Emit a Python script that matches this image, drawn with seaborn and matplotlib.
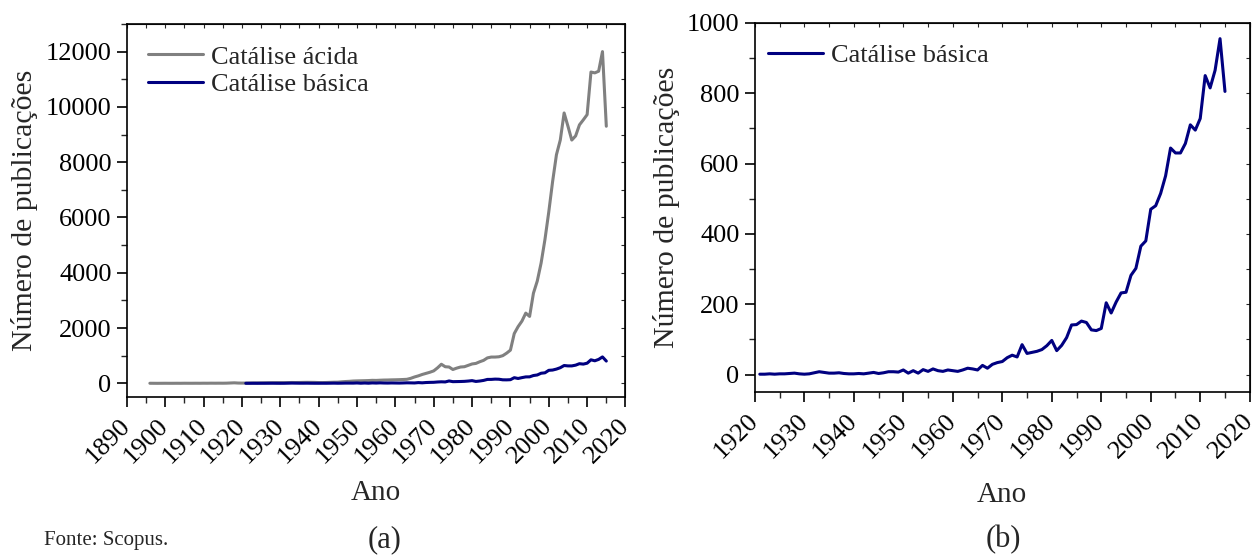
import numpy as np
import pandas as pd
import matplotlib
matplotlib.use('Agg')
import matplotlib.pyplot as plt
from matplotlib.ticker import MultipleLocator
import seaborn as sns

sns.set_style('ticks')
plt.rcParams['font.family'] = ['Liberation Serif', 'DejaVu Serif']

# Publications per year (Scopus)
anos_acida = np.arange(1896, 2016)
acida = [
    2, 1, 0, 1, 2, 1, 1, 2, 1, 3, 2, 2, 3, 2, 4, 3, 5, 4, 5, 4, 6, 12, 18, 10, 8,
    9, 12, 14, 15, 17, 19, 21, 22, 24, 25, 24, 27, 30, 29, 31, 34, 36, 35, 33, 28,
    26, 30, 35, 40, 42, 55, 65, 72, 83, 88, 92, 95, 100, 108, 105, 112, 118, 120,
    125, 128, 132, 138,
    145, 180, 230, 270, 320, 360, 400, 450, 560, 690, 600, 590, 500, 550, 590, 600,
    650, 700, 720, 780, 830, 920, 950,
    950, 960, 1000, 1090, 1200, 1800, 2050, 2250, 2540, 2420, 3260, 3700, 4350,
    5200, 6200, 7300, 8270, 8800, 9780, 9300, 8800, 8950, 9350, 9530, 9720, 11260,
    11230, 11290, 12000, 9300,
]

anos_basica = np.arange(1921, 2016)
basica = [
    1, 1, 2, 1, 2, 2, 3, 4, 2, 1, 2, 5, 8, 6, 4, 4, 5, 3, 2, 2, 3, 2, 4, 6, 3, 5,
    8, 8, 7,
    13, 4, 11, 4, 14, 9, 16, 11, 9, 13, 11, 9, 13, 18, 16, 13, 26, 18, 29, 34,
    37, 48, 55, 50, 85, 60, 63, 66, 71, 82, 97, 68, 83, 105, 141, 142, 152, 148,
    127, 125, 131, 204, 175, 206, 232, 234, 282, 302, 365, 380, 470, 480, 515, 565,
    644, 630, 630, 657, 710, 695, 728, 850, 815, 865, 955, 805,
]

df_a = pd.DataFrame({'Ano': anos_acida, 'n': acida})
df_b = pd.DataFrame({'Ano': anos_basica, 'n': basica})

cinza = '#808080'
azul = '#000080'
fs_tick = 19
fs_leg = 19
fs_lab = 21

fig = plt.figure(figsize=(12.56, 5.57), dpi=100)
ax1 = fig.add_axes([0.101, 0.287, 0.397, 0.670])
ax2 = fig.add_axes([0.601, 0.296, 0.394, 0.663])

sns.lineplot(data=df_a, x='Ano', y='n', ax=ax1, color=cinza, lw=2.2,
             label='Catálise ácida')
sns.lineplot(data=df_b, x='Ano', y='n', ax=ax1, color=azul, lw=2.2,
             label='Catálise básica')
sns.lineplot(data=df_b, x='Ano', y='n', ax=ax2, color=azul, lw=2.2,
             label='Catálise básica')

ax1.set_xlim(1890, 2020)
ax1.set_ylim(-500, 13000)
ax1.xaxis.set_major_locator(MultipleLocator(10))
ax1.xaxis.set_minor_locator(MultipleLocator(5))
ax1.yaxis.set_major_locator(MultipleLocator(2000))
ax1.yaxis.set_minor_locator(MultipleLocator(1000))

ax2.set_xlim(1920, 2020)
ax2.set_ylim(-50, 1000)
ax2.xaxis.set_major_locator(MultipleLocator(10))
ax2.xaxis.set_minor_locator(MultipleLocator(5))
ax2.yaxis.set_major_locator(MultipleLocator(200))
ax2.yaxis.set_minor_locator(MultipleLocator(100))

for ax in (ax1, ax2):
    for s in ax.spines.values():
        s.set_visible(True)
        s.set_linewidth(1.2)
        s.set_color('black')
    ax.tick_params(which='major', direction='out', length=7, width=1.2,
                   labelsize=fs_tick, colors='black')
    ax.tick_params(which='minor', direction='out', length=4, width=1.0)
    for lab in ax.get_xticklabels():
        lab.set_rotation(45)
        lab.set_ha('right')
        lab.set_va('center')
        lab.set_rotation_mode('anchor')
    ax.tick_params(axis='x', pad=11)
    ax.tick_params(axis='y', pad=4)
    ax.set_ylabel('Número de publicações', fontsize=21.5)

    # inward ticks on the top and right edges
    top = ax.secondary_xaxis('top')
    top.xaxis.set_major_locator(ax.xaxis.get_major_locator())
    top.xaxis.set_minor_locator(ax.xaxis.get_minor_locator())
    top.tick_params(which='both', direction='in', length=3, width=0.8,
                    labeltop=False)
    right = ax.secondary_yaxis('right')
    right.yaxis.set_major_locator(ax.yaxis.get_major_locator())
    right.yaxis.set_minor_locator(ax.yaxis.get_minor_locator())
    right.tick_params(which='both', direction='in', length=3, width=0.8,
                      labelright=False)

ax1.set_xlabel('Ano', fontsize=fs_lab, labelpad=9)
ax2.set_xlabel('Ano', fontsize=fs_lab, labelpad=14)

ax1.legend(loc='upper left', frameon=False, fontsize=fs_leg,
           handlelength=2.1, handletextpad=0.3, borderaxespad=0.4,
           labelspacing=0.15)
ax2.legend(loc='upper left', bbox_to_anchor=(-0.016, 1.0), frameon=False,
           fontsize=fs_leg, handlelength=2.1, handletextpad=0.3,
           borderaxespad=0.4, labelspacing=0.15)

ax1.yaxis.set_label_coords(-0.179, 0.5)
ax2.yaxis.set_label_coords(-0.152, 0.5)

fig.text(44 / 1256, 1 - 540 / 557, 'Fonte: Scopus.', fontsize=15, va='center')
fig.text(385 / 1256, 1 - 540 / 557, '(a)', fontsize=22, ha='center', va='center')
fig.text(1003 / 1256, 1 - 540 / 557, '(b)', fontsize=22, ha='center', va='center')

fig.savefig('out.png', dpi=100)
